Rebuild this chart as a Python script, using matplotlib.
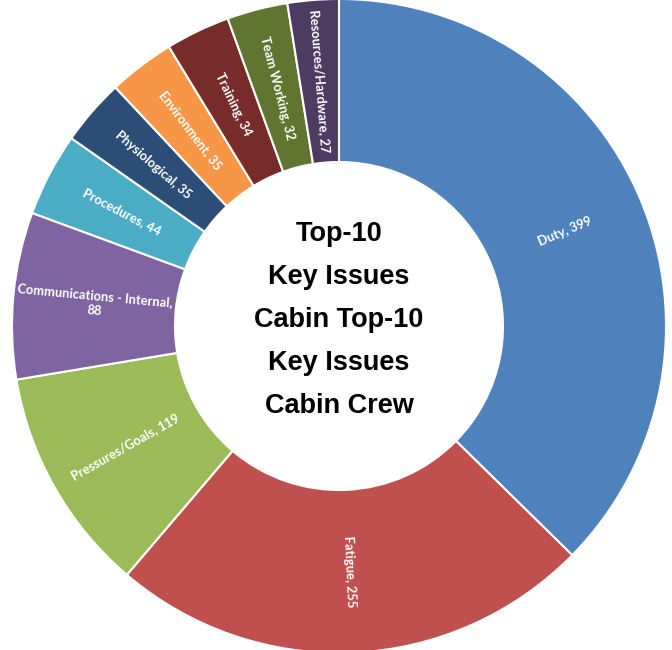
import numpy as np
import matplotlib.pyplot as plt

categories = ["Duty", "Fatigue", "Pressures/Goals", "Communications - Internal",
              "Procedures", "Physiological", "Environment", "Training",
              "Team Working", "Resources/Hardware"]
counts = [399, 255, 119, 88, 44, 35, 35, 34, 32, 27]
colors = ["#4F81BD", "#C0504D", "#9BBB59", "#8064A2", "#4BACC6",
          "#2C4D75", "#F79646", "#772C2A", "#5F7530", "#4D3B62"]
center_lines = ["Top-10", "Key Issues", "Cabin Top-10", "Key Issues", "Cabin Crew"]

fig = plt.figure(figsize=(6.72, 6.5), dpi=100)
ax = fig.add_axes([0, 0, 1, 1])

cx, cy = 339, 324
r_out = 327
r_in = 164

wedges, _ = ax.pie(counts, colors=colors, startangle=90, counterclock=False,
                   radius=r_out, center=(cx, cy), frame=True,
                   wedgeprops=dict(width=r_out - r_in, edgecolor="white", linewidth=1.5))
ax.set_xlim(0, 672)
ax.set_ylim(0, 650)
ax.set_aspect("equal")
ax.axis("off")

# slice labels, written along the radius in the middle of the ring
r_lab = (r_out + r_in) / 2
for w, name, n in zip(wedges, categories, counts):
    mid = (w.theta1 + w.theta2) / 2
    a = np.deg2rad(mid)
    x = cx + r_lab * np.cos(a)
    y = cy + r_lab * np.sin(a)
    rot = mid % 360
    if 90 < rot < 270:
        rot -= 180
    elif rot >= 270:
        rot -= 360
    txt = f"{name}, {n}"
    if name.startswith("Communications"):
        txt = f"{name},\n{n}"
    ax.text(x, y, txt, rotation=rot, rotation_mode="anchor",
            ha="center", va="center", color="white", fontsize=9.3,
            fontweight="bold", family="Lato", linespacing=1.3)

# centre title
step = 43
for i, line in enumerate(center_lines):
    ax.text(cx, cy + 6 + (2 - i) * step, line, ha="center", va="center",
            fontsize=19.5, fontweight="bold", family="Liberation Sans", color="black")

fig.savefig("out.png", dpi=100, facecolor="white")
